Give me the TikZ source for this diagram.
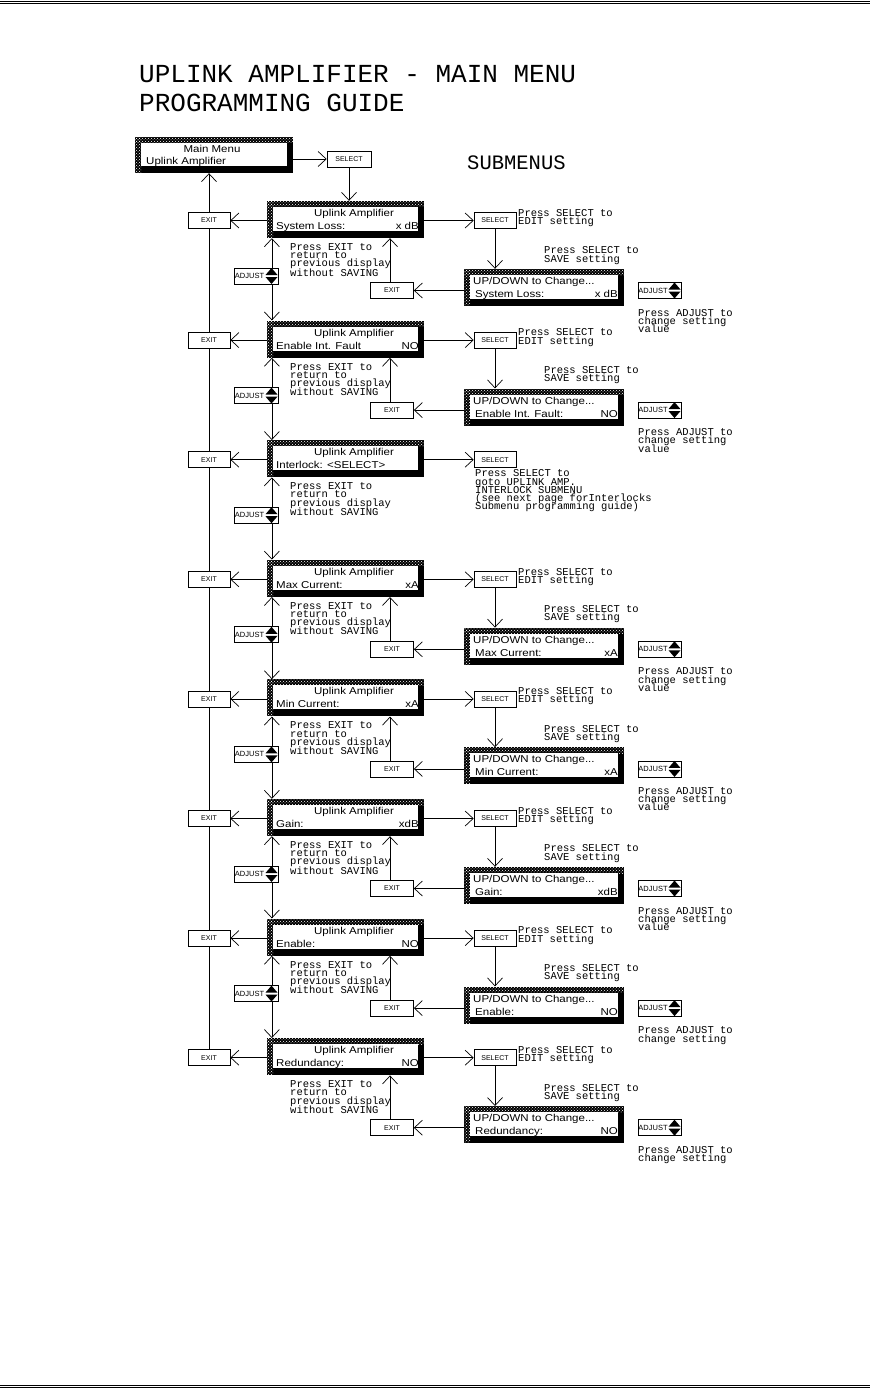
\documentclass[tikz,border=0pt]{standalone}
\usepackage{fontspec}
\usetikzlibrary{arrows.meta,patterns}

\newfontfamily\plotfont{Liberation Mono}
\newfontfamily\lcdfont[FakeStretch=1.15]{Liberation Sans}
\newfontfamily\keyfont{Liberation Sans}
\setlength{\lineskiplimit}{-20pt}

\begin{document}
\begin{tikzpicture}[
    x=1pt, y=-1pt,
    % Node styles
    lcd/.style={rectangle, fill=black, inner sep=0pt, minimum width=157pt, minimum height=37pt,
        path picture={
            \fill[pattern=crosshatch dots, pattern color=white]
                (path picture bounding box.north west) rectangle ([yshift=-6pt]path picture bounding box.north east);
            \fill[pattern=crosshatch dots, pattern color=white]
                (path picture bounding box.north west) rectangle ([xshift=6pt]path picture bounding box.south west);
            \fill[white] ([xshift=6pt,yshift=-6pt]path picture bounding box.north west)
                rectangle ([xshift=-6pt,yshift=7pt]path picture bounding box.south east);
        }},
    key/.style={draw, line width=0.7pt, fill=white, minimum width=42pt, minimum height=16pt, inner sep=0pt,
        font=\keyfont\fontsize{7}{7}\selectfont},
    adjkey/.style={key, minimum width=44pt, font=\keyfont\fontsize{7.5}{7.5}\selectfont,
        path picture={
            \fill[black] ([xshift=-12.5pt,yshift=1pt]path picture bounding box.east) -- ++(12pt,0pt) -- ++(-6pt,7pt) -- cycle;
            \fill[black] ([xshift=-12.5pt,yshift=-1pt]path picture bounding box.east) -- ++(12pt,0pt) -- ++(-6pt,-7pt) -- cycle;
        }},
    lcdtext/.style={anchor=base west, inner sep=0pt, font=\lcdfont\fontsize{10}{10}\selectfont},
    % multi-line texts: placed at the baseline of their last line
    hint/.style={anchor=base west, inner sep=0pt, align=left,
        font=\plotfont\fontsize{10.5}{8.2}\selectfont},
    heading/.style={anchor=base west, inner sep=0pt, align=left,
        font=\plotfont\fontsize{26}{28.5}\selectfont},
    % Connectors
    conn/.style={line width=0.7pt, -{Straight Barb[length=8pt, width=15pt]}},
    link/.style={line width=0.7pt}
]
    \useasboundingbox (0,0) rectangle (870,1388);

    % =========================================================================
    % 1. PAGE RULES AND TITLE
    % =========================================================================
    \draw[line width=1.2pt] (0,1.2) -- (870,1.2);
    \draw[line width=0.7pt] (0,3) -- (870,3);
    \draw[line width=0.7pt] (0,1385.2) -- (870,1385.2);
    \draw[line width=1.2pt] (0,1387.2) -- (870,1387.2);

    \node[heading] (title) at (139,111.5) {UPLINK AMPLIFIER - MAIN MENU\\PROGRAMMING GUIDE};
    \node[heading, font=\plotfont\fontsize{20.5}{20.5}\selectfont] (submenus) at (467,169.5) {SUBMENUS};

    % =========================================================================
    % 2. MAIN MENU
    % =========================================================================
    \node[lcd, minimum width=158pt, minimum height=36pt] (mainmenu) at (214,155) {};
    \node[lcdtext, anchor=base] (mainA) at (212,152.5) {Main Menu};
    \node[lcdtext] (mainB) at (146,164.5) {Uplink Amplifier};
    \node[key, minimum width=44pt] (sel0) at (349,159) {SELECT};
    \draw[conn] (mainmenu.east |- sel0) -- (sel0.west);

    % =========================================================================
    % 3. ONE ROW PER DISPLAY
    % =========================================================================
    \foreach \i/\param/\subparam/\val/\vflag in {
        1/{System Loss:}/{System Loss:}/{x dB}/1,
        2/{Enable Int. Fault}/{Enable Int. Fault:}/{NO}/1,
        3/{Interlock: <SELECT>}/{}/{}/0,
        4/{Max Current:}/{Max Current:}/{xA}/1,
        5/{Min Current:}/{Min Current:}/{xA}/1,
        6/{Gain:}/{Gain:}/{xdB}/1,
        7/{Enable:}/{Enable:}/{NO}/0,
        8/{Redundancy:}/{Redundancy:}/{NO}/0} {

        \pgfmathsetmacro\rowtop{201+119.6*(\i-1)}
        \pgfmathtruncatemacro\prev{\i-1}

        % --- Display and its texts ---
        \node[lcd] (box\i) at (345.5, \rowtop+18.5) {};
        \node[lcdtext, anchor=base] (boxA\i) at (354, \rowtop+15.5) {Uplink Amplifier};
        \node[lcdtext] (boxB\i) at (276, \rowtop+28.5) {\param};
        \node[lcdtext, anchor=base east] (boxV\i) at (419, \rowtop+28.5) {\val};

        % --- EXIT column on the left ---
        \node[key] (exitL\i) at (209, \rowtop+19.5) {EXIT};
        \draw[conn] (box\i.west |- exitL\i) -- (exitL\i.east);
        \ifnum \i=1
            \draw[conn] (exitL1.north) -- (exitL1.north |- mainmenu.south);
            \draw[conn] (sel0.south) -- (sel0.south |- box1.north);
        \else
            \draw[link] (exitL\i.north) -- (exitL\prev.south);
            % ADJUST between two displays
            \node[adjkey] (adjL\i) at (256, \rowtop-44.6) {ADJUST\hspace*{13pt}};
            \coordinate (aTop\i) at ([xshift=-6.5pt]adjL\i.north east);
            \coordinate (aBot\i) at ([xshift=-6.5pt]adjL\i.south east);
            \draw[conn] (aTop\i) -- (aTop\i |- box\prev.south);
            \draw[conn] (aBot\i) -- (aBot\i |- box\i.north);
        \fi

        \node[hint] (back\i) at (290, \rowtop+75)
            {Press EXIT to\\return to\\previous display\\[1pt]without SAVING};

        % --- Submenu on the right ---
        \node[key] (sel\i) at (495, \rowtop+19.5) {SELECT};
        \draw[conn] (box\i.east |- sel\i) -- (sel\i.west);
        \ifnum \i=3
            \node[hint] (goto\i) at (475, \rowtop+69.5)
                {Press SELECT to\\goto UPLINK AMP.\\INTERLOCK SUBMENU\\(see next page forInterlocks\\Submenu programming guide)};
        \else
            \node[hint] (edit\i) at (518, \rowtop+23.5) {Press SELECT to\\EDIT setting};
            \node[hint] (save\i) at (544, \rowtop+61) {Press SELECT to\\SAVE setting};
            \node[lcd, minimum width=160pt] (sub\i) at (544, \rowtop+86.5) {};
            \node[lcdtext] (subA\i) at (473, \rowtop+83.5) {UP/DOWN to Change...};
            \node[lcdtext] (subB\i) at (475, \rowtop+96.5) {\subparam};
            \node[lcdtext, anchor=base east] (subV\i) at (618, \rowtop+96.5) {\val};
            \draw[conn] (sel\i.south) -- (sel\i.south |- sub\i.north);

            \node[key, minimum width=43pt] (exitR\i) at (392, \rowtop+89.5) {EXIT};
            \draw[conn] (sub\i.west |- exitR\i) -- (exitR\i.east);
            \coordinate (rUp\i) at ([xshift=-2pt]exitR\i.north);
            \draw[conn] (rUp\i) -- (rUp\i |- box\i.south);

            \node[adjkey, minimum width=43pt] (adjR\i) at (659.5, \rowtop+89.5) {ADJUST\hspace*{13pt}};
            \ifnum \vflag=1
                \node[hint] (change\i) at (638, \rowtop+131.5) {Press ADJUST to\\change setting\\value};
            \else
                \node[hint] (change\i) at (638, \rowtop+123.5) {Press ADJUST to\\change setting};
            \fi
        \fi
    }

\end{tikzpicture}
\end{document}
